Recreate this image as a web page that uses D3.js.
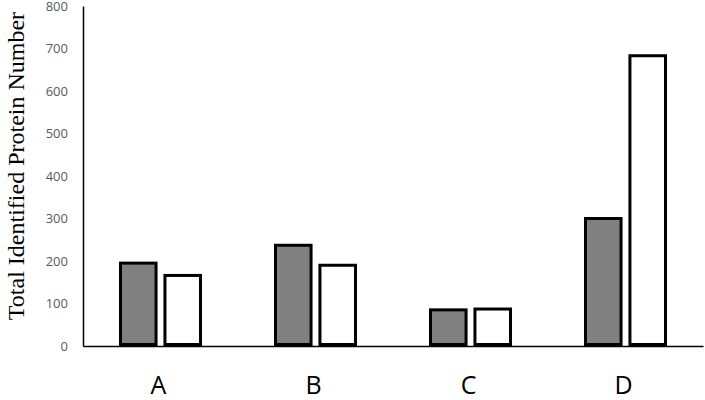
<!DOCTYPE html>
<html>
<head>
<meta charset="utf-8">
<script src="https://cdn.jsdelivr.net/npm/d3@7"></script>
<style>
  body { margin: 0; background: #fff; }
</style>
</head>
<body>
<div id="visualization"></div>
<script>
const categories = ["A", "B", "C", "D"];
const series = ["first", "second"];
const firstValues = [195, 237, 85, 300];
const secondValues = [166, 190, 87, 683];
const yTicks = [0, 100, 200, 300, 400, 500, 600, 700, 800];

const W = 705, H = 400;
const margin = {top: 6, right: 2, bottom: 54, left: 83};
const width = W - margin.left - margin.right;
const height = H - margin.top - margin.bottom;

const svg = d3.select("#visualization")
    .append("svg")
    .attr("width", W)
    .attr("height", H);

const g = svg.append("g")
    .attr("transform", "translate(" + margin.left + "," + margin.top + ")");

const x = d3.scaleBand().domain(categories).range([0, width]);
const x1 = d3.scaleBand().domain(series).range([0, 80]).paddingInner(0.2);
const y = d3.scaleLinear().domain([0, 800]).range([height, 0]);

const colors = {first: "#808080", second: "#ffffff"};

const data = categories.map((c, i) => ({cat: c, first: firstValues[i], second: secondValues[i]}));

const groups = g.selectAll(".grp")
    .data(data)
    .enter().append("g")
    .attr("class", "grp")
    .attr("transform", (d) => "translate(" + (x(d.cat) + x.bandwidth() / 2 - 40) + ",0)");

groups.selectAll("rect")
    .data((d) => series.map((s) => ({s: s, v: d[s]})))
    .enter().append("rect")
    .attr("x", (d) => x1(d.s))
    .attr("width", x1.bandwidth())
    .attr("y", (d) => y(d.v))
    .attr("height", (d) => height - y(d.v) - 1.5)
    .style("fill", (d) => colors[d.s])
    .style("stroke", "#000")
    .style("stroke-width", 3);

// y axis
const yAxis = g.append("g")
    .call(d3.axisLeft(y).tickValues(yTicks).tickSize(0).tickPadding(15));
yAxis.select(".domain").attr("stroke", "#000").attr("stroke-width", 1.5);
yAxis.selectAll("text")
    .style("font-family", "'Open Sans', sans-serif")
    .style("font-size", "13px")
    .style("fill", "#595959");

// x axis
const xAxis = g.append("g")
    .attr("transform", `translate(0, ${height})`)
    .call(d3.axisBottom(x).tickSize(0).tickPadding(30));
xAxis.select(".domain").attr("stroke", "#000").attr("stroke-width", 1.3);
xAxis.selectAll("text")
    .attr("dx", "-2")
    .style("font-family", "'Open Sans', sans-serif")
    .style("font-size", "25px")
    .style("fill", "#000");

svg.append("text")
    .attr("transform", "translate(24," + 166 + ") rotate(-90)")
    .attr("text-anchor", "middle")
    .style("font-family", "'Liberation Serif', 'Times New Roman', serif")
    .style("font-size", "24px")
    .style("fill", "#000")
    .text("Total Identified Protein Number");
</script>
</body>
</html>
